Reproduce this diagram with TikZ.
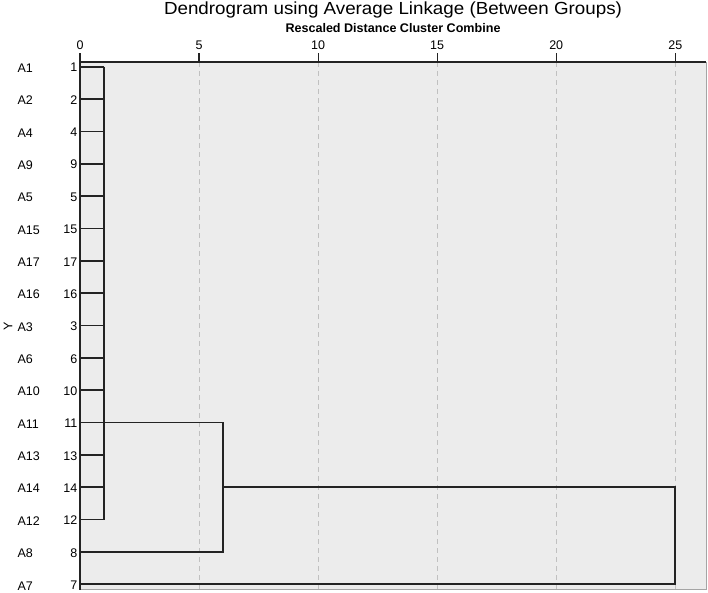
\documentclass[tikz,border=0pt]{standalone}
\usepackage{fontspec}
\setmainfont{Liberation Sans}
\definecolor{plotbg}{RGB}{236,236,236}
\definecolor{framegray}{RGB}{165,165,165}
\definecolor{gridgray}{RGB}{192,192,192}
\definecolor{linkcol}{RGB}{35,35,35}
\begin{document}
\begin{tikzpicture}[x=1pt,y=-1pt,
  small/.style={font=\fontsize{12.5}{14}\selectfont, inner sep=0pt},
  link/.style={draw=linkcol, line width=1.8pt, line join=miter},
  stub/.style={draw=linkcol, line width=1.6pt},
  gridline/.style={draw=gridgray, line width=0.8pt, dash pattern=on 5pt off 4pt},
  axisline/.style={draw=linkcol, line width=1.5pt}]
\useasboundingbox (0,0) rectangle (708,592);
% plot area
\fill[plotbg] (80,62) rectangle (706,589.5);
\draw[framegray, line width=0.8pt] (706,62) -- (706,589.5) -- (80,589.5);
% grid lines
\foreach \v in {5,10,15,20,25}
  \draw[gridline] ({80+23.81*\v},62) -- ({80+23.81*\v},589.5);
% title
\node[anchor=base] (title) at (393,14.5) {\resizebox{458pt}{\height}{\fontsize{17.5}{20}\selectfont Dendrogram using Average Linkage (Between Groups)}};
\node[anchor=base] (subtitle) at (393,32.7) {\resizebox{215pt}{\height}{\fontsize{12.5}{14}\selectfont\bfseries Rescaled Distance Cluster Combine}};
% top axis
\draw[axisline] (80,62) -- (706,62);
\foreach \v in {0,5,10,15,20,25} {
  \node[small, anchor=base] (tick\v) at ({80+23.81*\v},49.3) {\v};
  \draw[axisline, line width=1.2pt] ({80+23.81*\v},53) -- ({80+23.81*\v},62);
}
% left axis
\draw[axisline] (80,53) -- (80,589.5);
% Y label
\node[small, rotate=90] (ylab) at (8,326.7) {Y};
% leaves
\foreach \i/\lab/\num in {0/A1/1,1/A2/2,2/A4/4,3/A9/9,4/A5/5,5/A15/15,6/A17/17,7/A16/16,8/A3/3,9/A6/6,10/A10/10,11/A11/11,12/A13/13,13/A14/14,14/A12/12,15/A8/8,16/A7/7} {
  \coordinate (r\i) at (80,{66.7+32.35*\i});
  \node[small, anchor=base west] (lab\i) at (17.3,{72.4+32.35*\i}) {\lab};
  \node[small, anchor=base east] (num\i) at (77.5,{71.9+32.35*\i}) {\num};
}
% first cluster (distance ~1)
\coordinate (k1top) at (104.3,66.7);
\coordinate (k1bot) at (104.3,{66.7+32.35*14});
\foreach \i in {0,...,14}
  \draw[stub] (r\i) -- (r\i -| k1top);
\draw[link] (k1top) -- (k1bot);
% second merge (distance ~6)
\coordinate (m2) at (223.3,0);
\draw[link] (r11 -| k1top) -- (r11 -| m2) -- (r15 -| m2) -- (r15);
% final merge (distance 25)
\coordinate (m3) at (675.3,0);
\draw[link] (r13 -| m2) -- (r13 -| m3) -- (r16 -| m3) -- (r16);
\end{tikzpicture}
\end{document}
